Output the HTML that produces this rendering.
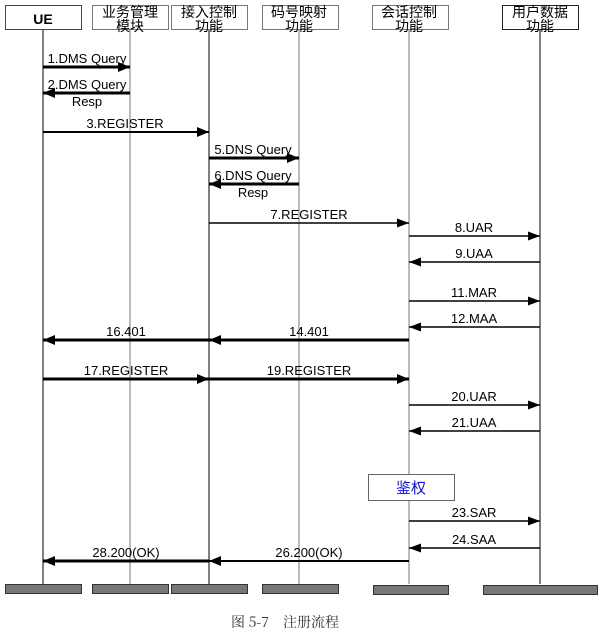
<!DOCTYPE html>
<html><head><meta charset="utf-8"><style>
html,body{margin:0;padding:0;background:#fff;}
svg text{font-family:"Liberation Sans","Noto Sans CJK SC",sans-serif;font-size:13px;fill:#000;}
.cn{font-family:"Noto Sans CJK SC","WenQuanYi Zen Hei",sans-serif;font-size:14px;}
</style></head><body>
<svg width="600" height="630" xmlns="http://www.w3.org/2000/svg">
<defs>
<marker id="a" markerWidth="12" markerHeight="9" refX="12" refY="4.5" orient="auto" markerUnits="userSpaceOnUse"><path d="M0,0 L12,4.5 L0,9 Z" fill="#000"/></marker>
<marker id="b" markerWidth="12" markerHeight="10" refX="12" refY="5" orient="auto" markerUnits="userSpaceOnUse"><path d="M0,0 L12,5 L0,10 Z" fill="#000"/></marker>
</defs>
<g stroke-width="1">
<line x1="43" y1="30" x2="43" y2="584" stroke="#000"/>
<line x1="130" y1="30" x2="130" y2="584" stroke="#777"/>
<line x1="209" y1="30" x2="209" y2="584" stroke="#000"/>
<line x1="299" y1="30" x2="299" y2="584" stroke="#777"/>
<line x1="409" y1="30" x2="409" y2="584" stroke="#777"/>
<line x1="540" y1="30" x2="540" y2="584" stroke="#000"/>
</g>
<g fill="#fff">
<rect x="5.5" y="5.5" width="76" height="24" stroke="#444"/>
<rect x="92.5" y="5.5" width="76" height="24" stroke="#777"/>
<rect x="171.5" y="5.5" width="76" height="24" stroke="#777"/>
<rect x="262.5" y="5.5" width="76" height="24" stroke="#777"/>
<rect x="372.5" y="5.5" width="76" height="24" stroke="#777"/>
<rect x="502.5" y="5.5" width="76" height="24" stroke="#222"/>
</g>
<text x="43" y="24" text-anchor="middle" style="font-weight:bold;font-size:14px">UE</text>
<g text-anchor="middle">
<text class="cn" x="130" y="17">业务管理</text><text class="cn" x="130" y="31">模块</text>
<text class="cn" x="209" y="17">接入控制</text><text class="cn" x="209" y="31">功能</text>
<text class="cn" x="299" y="17">码号映射</text><text class="cn" x="299" y="31">功能</text>
<text class="cn" x="409" y="17">会话控制</text><text class="cn" x="409" y="31">功能</text>
<text class="cn" x="540" y="17">用户数据</text><text class="cn" x="540" y="31">功能</text>
</g>
<g stroke="#000">
<line x1="43" y1="67" x2="130" y2="67" stroke-width="3" marker-end="url(#b)"/>
<line x1="130" y1="93" x2="43" y2="93" stroke-width="3" marker-end="url(#b)"/>
<line x1="43" y1="132" x2="209" y2="132" stroke-width="2" marker-end="url(#b)"/>
<line x1="209" y1="158" x2="299" y2="158" stroke-width="3" marker-end="url(#b)"/>
<line x1="299" y1="184" x2="209" y2="184" stroke-width="3" marker-end="url(#b)"/>
<line x1="209" y1="223" x2="409" y2="223" stroke-width="1.5" marker-end="url(#a)"/>
<line x1="409" y1="236" x2="540" y2="236" stroke-width="1.5" marker-end="url(#a)"/>
<line x1="540" y1="262" x2="409" y2="262" stroke-width="1.5" marker-end="url(#a)"/>
<line x1="409" y1="301" x2="540" y2="301" stroke-width="1.5" marker-end="url(#a)"/>
<line x1="540" y1="327" x2="409" y2="327" stroke-width="1.5" marker-end="url(#a)"/>
<line x1="409" y1="340" x2="209" y2="340" stroke-width="3" marker-end="url(#b)"/>
<line x1="209" y1="340" x2="43" y2="340" stroke-width="3" marker-end="url(#b)"/>
<line x1="43" y1="379" x2="209" y2="379" stroke-width="3" marker-end="url(#b)"/>
<line x1="209" y1="379" x2="409" y2="379" stroke-width="3" marker-end="url(#b)"/>
<line x1="409" y1="405" x2="540" y2="405" stroke-width="1.5" marker-end="url(#a)"/>
<line x1="540" y1="431" x2="409" y2="431" stroke-width="1.5" marker-end="url(#a)"/>
<line x1="409" y1="521" x2="540" y2="521" stroke-width="1.5" marker-end="url(#a)"/>
<line x1="540" y1="548" x2="409" y2="548" stroke-width="1.5" marker-end="url(#a)"/>
<line x1="409" y1="561" x2="209" y2="561" stroke-width="2" marker-end="url(#b)"/>
<line x1="209" y1="561" x2="43" y2="561" stroke-width="3" marker-end="url(#b)"/>
</g>
<g text-anchor="middle">
<text x="87" y="63">1.DMS Query</text>
<text x="87" y="89">2.DMS Query</text>
<text x="87" y="106">Resp</text>
<text x="125" y="128">3.REGISTER</text>
<text x="253" y="154">5.DNS Query</text>
<text x="253" y="180">6.DNS Query</text>
<text x="253" y="197">Resp</text>
<text x="309" y="219">7.REGISTER</text>
<text x="474" y="232">8.UAR</text>
<text x="474" y="258">9.UAA</text>
<text x="474" y="297">11.MAR</text>
<text x="474" y="323">12.MAA</text>
<text x="309" y="336">14.401</text>
<text x="126" y="336">16.401</text>
<text x="126" y="375">17.REGISTER</text>
<text x="309" y="375">19.REGISTER</text>
<text x="474" y="401">20.UAR</text>
<text x="474" y="427">21.UAA</text>
<text x="474" y="517">23.SAR</text>
<text x="474" y="544">24.SAA</text>
<text x="309" y="557">26.200(OK)</text>
<text x="126" y="557">28.200(OK)</text>
</g>
<rect x="368.5" y="474.5" width="86" height="26" fill="#fff" stroke="#666"/>
<text class="cn" x="411" y="493" text-anchor="middle" style="fill:#1010d0;font-size:15px">鉴权</text>
<g fill="#777" stroke="#333">
<rect x="5.5" y="584.5" width="76" height="9"/>
<rect x="92.5" y="584.5" width="76" height="9"/>
<rect x="171.5" y="584.5" width="76" height="9"/>
<rect x="262.5" y="584.5" width="76" height="9"/>
<rect x="373.5" y="585.5" width="75" height="9"/>
<rect x="483.5" y="585.5" width="114" height="9"/>
</g>
<text x="285" y="627" text-anchor="middle" style="font-family:'Noto Serif CJK SC','Liberation Serif',serif;font-size:14px;fill:#333">图 5-7　注册流程</text>
</svg>
</body></html>
